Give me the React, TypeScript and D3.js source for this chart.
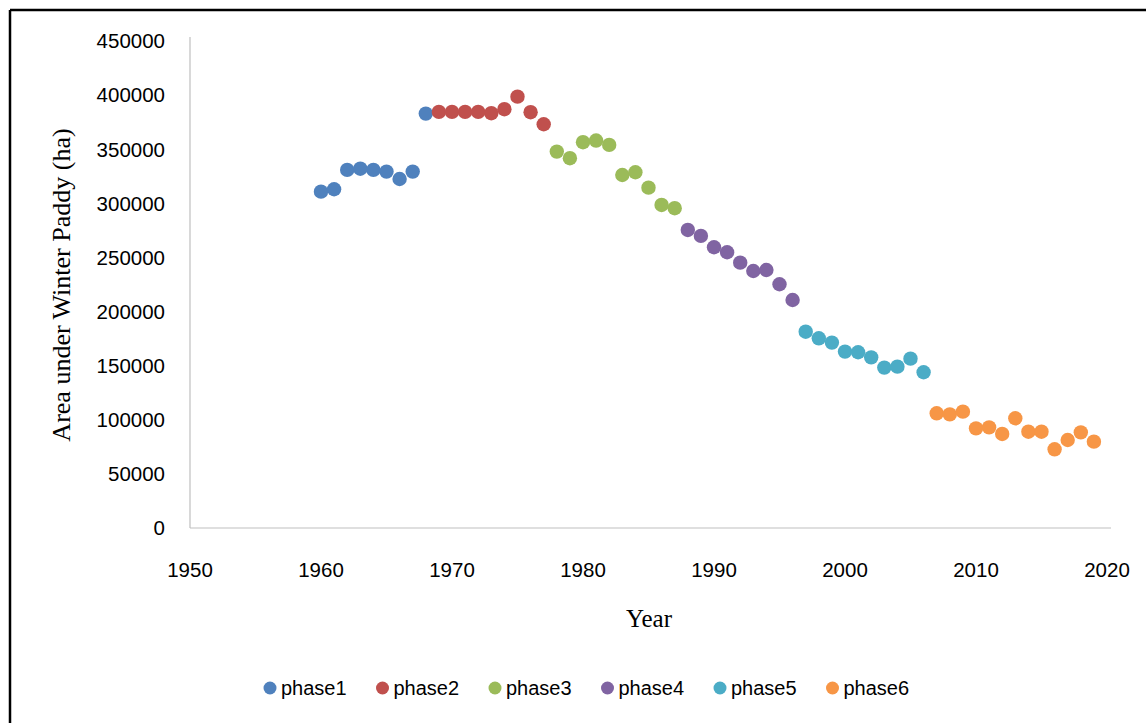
import React from "react";
import * as d3 from "d3";

const phaseNames = ["phase1", "phase2", "phase3", "phase4", "phase5", "phase6"];
const phaseColors = ["#4F81BD", "#C0504D", "#9BBB59", "#8064A2", "#4BACC6", "#F79646"];

const phase1Years = [1960, 1961, 1962, 1963, 1964, 1965, 1966, 1967, 1968];
const phase1Values = [310800, 313000, 330900, 332000, 330900, 329300, 322500, 329300, 382900];

const phase2Years = [1969, 1970, 1971, 1972, 1973, 1974, 1975, 1976, 1977];
const phase2Values = [384500, 384500, 384500, 384500, 383300, 387000, 398600, 384200, 373100];

const phase3Years = [1978, 1979, 1980, 1981, 1982, 1983, 1984, 1985, 1986, 1987];
const phase3Values = [347800, 341700, 356500, 358000, 354000, 326200, 328700, 314500, 298500, 295500];

const phase4Years = [1988, 1989, 1990, 1991, 1992, 1993, 1994, 1995, 1996];
const phase4Values = [275400, 269900, 259400, 254800, 245200, 237500, 238400, 225200, 210700];

const phase5Years = [1997, 1998, 1999, 2000, 2001, 2002, 2003, 2004, 2005, 2006];
const phase5Values = [181400, 175300, 171300, 163000, 162400, 157700, 148200, 149100, 156500, 143900];

const phase6Years = [2007, 2008, 2009, 2010, 2011, 2012, 2013, 2014, 2015, 2016, 2017, 2018, 2019];
const phase6Values = [106000, 105000, 107500, 92100, 93000, 86900, 101400, 89000, 89000, 72700, 81300, 88400, 79800];

const xTicks = [1950, 1960, 1970, 1980, 1990, 2000, 2010, 2020];
const yTicks = [0, 50000, 100000, 150000, 200000, 250000, 300000, 350000, 400000, 450000];

const series = [
  { years: phase1Years, values: phase1Values },
  { years: phase2Years, values: phase2Values },
  { years: phase3Years, values: phase3Values },
  { years: phase4Years, values: phase4Values },
  { years: phase5Years, values: phase5Values },
  { years: phase6Years, values: phase6Values },
];

export default function App() {
  const W = 1146;
  const H = 723;
  const x = d3.scaleLinear().domain([1950, 2020]).range([190, 1107]);
  const y = d3.scaleLinear().domain([0, 450000]).range([528, 41]);
  const sans = "'Liberation Sans', Arial, sans-serif";
  const serif = "'Liberation Serif', 'Times New Roman', serif";
  const legendX = [270, 382.5, 495, 607.5, 720, 832.5];

  return (
    <div style={{ position: "absolute", left: 0, top: 0 }}>
      <svg width={W} height={H} style={{ display: "block", background: "#fff" }}>
        <rect x={0} y={0} width={W} height={H} fill="#fff" />
        <line x1={10} y1={10} x2={W} y2={10} stroke="#000" strokeWidth={2.5} />
        <line x1={10} y1={10} x2={10} y2={H} stroke="#000" strokeWidth={2.5} />

        <line x1={190} y1={37} x2={190} y2={y(0)} stroke="#BFBFBF" strokeWidth={1.2} />
        <line x1={190} y1={y(0)} x2={1111} y2={y(0)} stroke="#BFBFBF" strokeWidth={1.2} />

        {yTicks.map((t) => (
          <text key={"y" + t} x={165} y={y(t)} dy="0.36em" textAnchor="end" fontFamily={sans} fontSize={20.5} fill="#000">
            {t}
          </text>
        ))}
        {xTicks.map((t) => (
          <text key={"x" + t} x={x(t)} y={570} dy="0.36em" textAnchor="middle" fontFamily={sans} fontSize={20.5} fill="#000">
            {t}
          </text>
        ))}

        <text x={649} y={627} textAnchor="middle" fontFamily={serif} fontSize={25} fill="#000">
          Year
        </text>
        <text
          transform={`translate(70, 285) rotate(-90)`}
          textAnchor="middle"
          fontFamily={serif}
          fontSize={26}
          fill="#000"
        >
          Area under Winter Paddy (ha)
        </text>

        {series.map((s, i) => (
          <g key={"s" + i}>
            {s.years.map((yr, j) => (
              <circle key={yr} cx={x(yr)} cy={y(s.values[j])} r={7.2} fill={phaseColors[i]} />
            ))}
          </g>
        ))}

        {phaseNames.map((n, i) => (
          <g key={n}>
            <circle cx={legendX[i]} cy={688} r={6.5} fill={phaseColors[i]} />
            <text x={legendX[i] + 11} y={688} dy="0.36em" fontFamily={sans} fontSize={20} fill="#000">
              {n}
            </text>
          </g>
        ))}
      </svg>
    </div>
  );
}
